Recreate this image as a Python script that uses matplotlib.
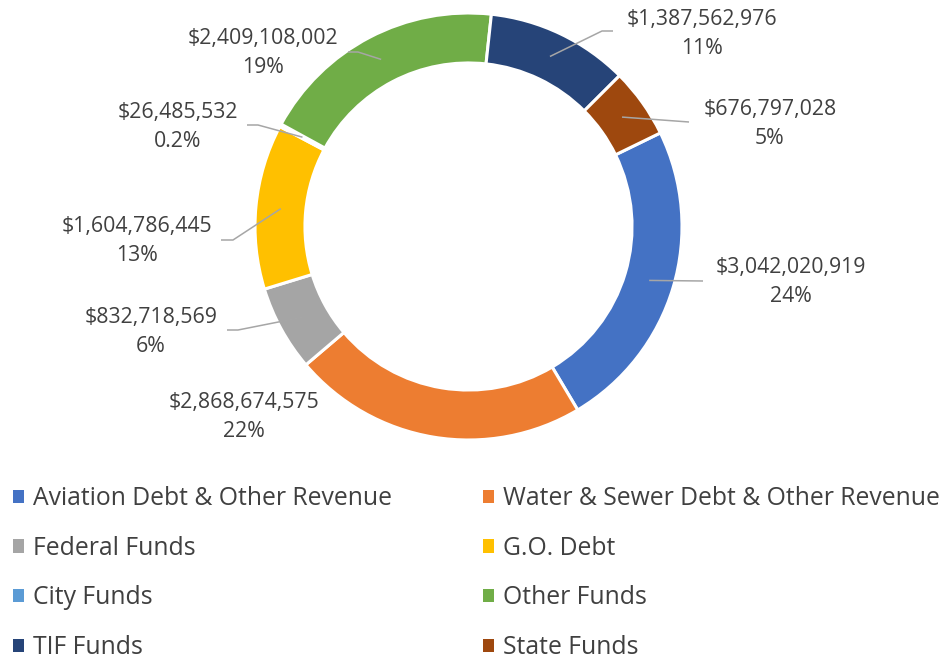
import numpy as np
import matplotlib
matplotlib.use("Agg")
import matplotlib.pyplot as plt

# ---------------------------------------------------------------------------
# data
# ---------------------------------------------------------------------------
categories = [
    "Aviation Debt & Other Revenue",
    "Water & Sewer Debt & Other Revenue",
    "Federal Funds",
    "G.O. Debt",
    "City Funds",
    "Other Funds",
    "TIF Funds",
    "State Funds",
]
amounts = [
    3042020919,
    2868674575,
    832718569,
    1604786445,
    26485532,
    2409108002,
    1387562976,
    676797028,
]
# percentages as printed on the chart
pct_labels = ["24%", "22%", "6%", "13%", "0.2%", "19%", "11%", "5%"]
colors = ["#4472C4", "#ED7D31", "#A5A5A5", "#FFC000",
          "#5B9BD5", "#70AD47", "#264478", "#9E480E"]

# label layout in pixels: (text centre x, text centre y, line end x, line end y, elbow x)
label_layout = [
    (791, 282, 703, 281, None),
    (244, 417, None, None, None),
    (151, 332, 227, 330, 238),
    (137, 241, 221, 240, 233),
    (178, 127, 247, 125, 258),
    (263, 53, 348, 52, 358),
    (702, 34, 613, 31, 602),
    (770, 124, 689, 122, None),
]

# ---------------------------------------------------------------------------
# figure
# ---------------------------------------------------------------------------
W, H = 944, 660
cx, cy, R = 468.5, 226.5, 213.5
text_color = "#404040"
font = ["Open Sans", "DejaVu Sans"]
fsize = 15.3
leg_size = 17.8

plt.rcParams["font.family"] = font

fig = plt.figure(figsize=(W / 100, H / 100), dpi=100)
ax = fig.add_axes([0, 0, 1, 1])


def px(x, y):
    return (x - cx) / R, (cy - y) / R


start = 26
wedges, _ = ax.pie(amounts, colors=colors, startangle=start, counterclock=False,
                   radius=1.0,
                   wedgeprops=dict(width=0.234, edgecolor="white", linewidth=2.2))

ax.set_aspect("equal")
ax.set_xlim(-cx / R, (W - cx) / R)
ax.set_ylim((cy - H) / R, cy / R)
ax.axis("off")

for w, amt, pct_txt, lay in zip(wedges, amounts, pct_labels, label_layout):
    tx, ty, ex, ey, elb = lay
    x, y = px(tx, ty)
    ax.text(x, y, f"${amt:,.0f}\n{pct_txt}", ha="center", va="center",
            fontsize=fsize, color=text_color, linespacing=1.48)
    if ex is None:
        continue
    mid = np.deg2rad((w.theta1 + w.theta2) / 2)
    r_mid = 1 - 0.234 / 2
    xs = [r_mid * np.cos(mid)]
    ys = [r_mid * np.sin(mid)]
    if elb is not None:
        bx, by = px(elb, ey)
        xs.append(bx)
        ys.append(by)
    e1, e2 = px(ex, ey)
    xs.append(e1)
    ys.append(e2)
    ax.plot(xs, ys, color="#A6A6A6", lw=1.1, solid_capstyle="butt")

# legend, filled row by row
order = [0, 2, 4, 6, 1, 3, 5, 7]
leg = ax.legend([wedges[i] for i in order], [categories[i] for i in order],
                ncol=2, loc="upper left",
                bbox_to_anchor=(13 / W, 1 - 486 / H), bbox_transform=fig.transFigure,
                frameon=False, fontsize=leg_size, handlelength=0.45, handleheight=0.45,
                handletextpad=0.36, columnspacing=3.69, labelspacing=1.0,
                borderpad=0, borderaxespad=0)
for t in leg.get_texts():
    t.set_color(text_color)
for h in leg.legend_handles:
    h.set_edgecolor("none")

fig.savefig("out.png", dpi=100)
